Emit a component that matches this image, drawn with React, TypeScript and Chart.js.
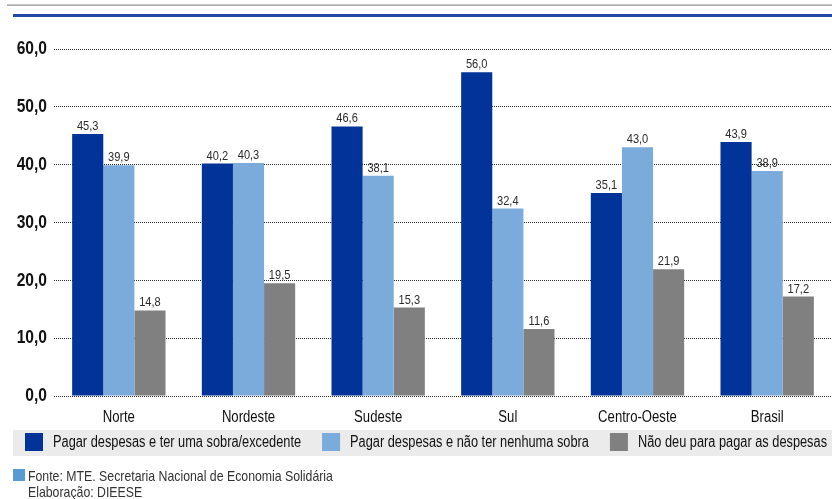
import { useEffect, useRef } from "react";
import { Chart, registerables } from "chart.js";

Chart.register(...registerables);

// Regiões e percentuais de cada situação financeira
const regioes = ["Norte", "Nordeste", "Sudeste", "Sul", "Centro-Oeste", "Brasil"];
const sobraExcedente = [45.3, 40.2, 46.6, 56.0, 35.1, 43.9];
const semSobra = [39.9, 40.3, 38.1, 32.4, 43.0, 38.9];
const naoPagou = [14.8, 19.5, 15.3, 11.6, 21.9, 17.2];
const nomesSeries = [
  "Pagar despesas e ter uma sobra/excedente",
  "Pagar despesas e não ter nenhuma sobra",
  "Não deu para pagar as despesas",
];
const coresSeries = ["#013399", "#7aabdb", "#808080"];
const eixoMin = 0;
const eixoMax = 60;
const eixoPasso = 10;
const linhaFonte = "Fonte: MTE. Secretaria Nacional de Economia Solidária";
const linhaElaboracao = "Elaboração: DIEESE";

const FAMILIA = "'Liberation Sans', Arial, sans-serif";
// largura relativa do texto, para obter um traço condensado
const CONDENSADO = 0.82;

const virgula = (v: number) => v.toFixed(1).replace(".", ",");

// Faz todo o texto do canvas sair estreito (como uma fonte "narrow")
function condensarTexto(ctx: CanvasRenderingContext2D, fator: number) {
  const fill = ctx.fillText.bind(ctx);
  const measure = ctx.measureText.bind(ctx);
  (ctx as any).fillText = (t: string, x: number, y: number, max?: number) => {
    ctx.save();
    ctx.translate(x, y);
    ctx.scale(fator, 1);
    if (max === undefined) fill(t, 0, 0);
    else fill(t, 0, 0, max / fator);
    ctx.restore();
  };
  (ctx as any).measureText = (t: string) => {
    const m = measure(t);
    return {
      width: m.width * fator,
      actualBoundingBoxLeft: m.actualBoundingBoxLeft * fator,
      actualBoundingBoxRight: m.actualBoundingBoxRight * fator,
      actualBoundingBoxAscent: m.actualBoundingBoxAscent,
      actualBoundingBoxDescent: m.actualBoundingBoxDescent,
      fontBoundingBoxAscent: m.fontBoundingBoxAscent,
      fontBoundingBoxDescent: m.fontBoundingBoxDescent,
    };
  };
}

// Fundo, filetes do cabeçalho, legenda em faixa cinza, rótulos e rodapé
const moldura = {
  id: "moldura",
  beforeDraw(chart: any) {
    const { ctx, width, height } = chart;
    ctx.save();
    ctx.fillStyle = "#ffffff";
    ctx.fillRect(0, 0, width, height);
    // filete cinza superior
    ctx.fillStyle = "#8a8a8a";
    ctx.fillRect(7, 4.5, width - 7, 1.2);
    // filete azul
    ctx.fillStyle = "#2149a6";
    ctx.fillRect(13, 14, width - 13, 3);
    // faixa da legenda
    ctx.fillStyle = "#ebebeb";
    ctx.fillRect(13, 430, width - 13, 26);
    ctx.restore();
  },
  afterDatasetsDraw(chart: any) {
    const { ctx } = chart;
    ctx.save();
    ctx.font = `13.5px ${FAMILIA}`;
    ctx.fillStyle = "#2b2b2b";
    ctx.textAlign = "center";
    ctx.textBaseline = "alphabetic";
    chart.data.datasets.forEach((ds: any, i: number) => {
      const meta = chart.getDatasetMeta(i);
      meta.data.forEach((bar: any, j: number) => {
        ctx.fillText(virgula(ds.data[j]), bar.x, bar.y - 4);
      });
    });
    ctx.restore();
  },
  afterDraw(chart: any) {
    const { ctx } = chart;
    ctx.save();
    // legenda: quadrado da cor + nome da série, em uma linha
    ctx.font = `15.6px ${FAMILIA}`;
    ctx.textAlign = "left";
    ctx.textBaseline = "middle";
    let x = 25;
    chart.data.datasets.forEach((ds: any) => {
      ctx.fillStyle = ds.backgroundColor;
      ctx.fillRect(x, 433, 18, 18);
      ctx.fillStyle = "#111111";
      ctx.fillText(ds.label, x + 28, 443);
      x += 28 + ctx.measureText(ds.label).width + 21;
    });
    // rodapé
    ctx.fillStyle = "#5a9ad4";
    ctx.fillRect(13, 469, 12, 12);
    ctx.fillStyle = "#333333";
    ctx.font = `15px ${FAMILIA}`;
    ctx.textBaseline = "alphabetic";
    ctx.fillText(linhaFonte, 28, 481);
    ctx.fillText(linhaElaboracao, 28, 497);
    ctx.restore();
  },
};

export default function App() {
  const canvasRef = useRef<HTMLCanvasElement | null>(null);

  useEffect(() => {
    const canvas = canvasRef.current;
    if (!canvas) return;
    const ctx = canvas.getContext("2d");
    if (!ctx) return;
    condensarTexto(ctx, CONDENSADO);
    const series = [sobraExcedente, semSobra, naoPagou];
    const chart = new Chart(ctx, {
      type: "bar",
      data: {
        labels: regioes,
        datasets: series.map((valores, i) => ({
          label: nomesSeries[i],
          data: valores,
          backgroundColor: coresSeries[i],
          borderWidth: 0,
          categoryPercentage: 0.72,
          barPercentage: 1.0,
        })),
      },
      options: {
        responsive: false,
        animation: false,
        layout: { padding: { top: 49, left: 5, right: 0, bottom: 69 } },
        plugins: {
          tooltip: { enabled: false },
          legend: { display: false },
        },
        scales: {
          x: {
            afterFit: (s: any) => {
              s.height = 34;
            },
            grid: { display: false },
            border: { display: false },
            ticks: {
              padding: 4,
              color: "#111111",
              font: { family: FAMILIA, size: 16 },
            },
          },
          y: {
            min: eixoMin,
            max: eixoMax,
            afterFit: (s: any) => {
              s.width = 49;
            },
            grid: {
              color: "#2a2a2a",
              lineWidth: 1,
              drawTicks: false,
            },
            border: { display: false, dash: [1, 1] },
            ticks: {
              stepSize: eixoPasso,
              padding: 7,
              color: "#111111",
              font: { family: FAMILIA, size: 19, weight: "bold" },
              callback: (v: any) => virgula(Number(v)),
            },
          },
        },
      },
      plugins: [moldura],
    });
    return () => chart.destroy();
  }, []);

  return (
    <div
      style={{
        position: "fixed",
        left: 0,
        top: 0,
        width: 832,
        height: 499,
        background: "#ffffff",
      }}
    >
      <canvas ref={canvasRef} width={832} height={499} />
    </div>
  );
}
